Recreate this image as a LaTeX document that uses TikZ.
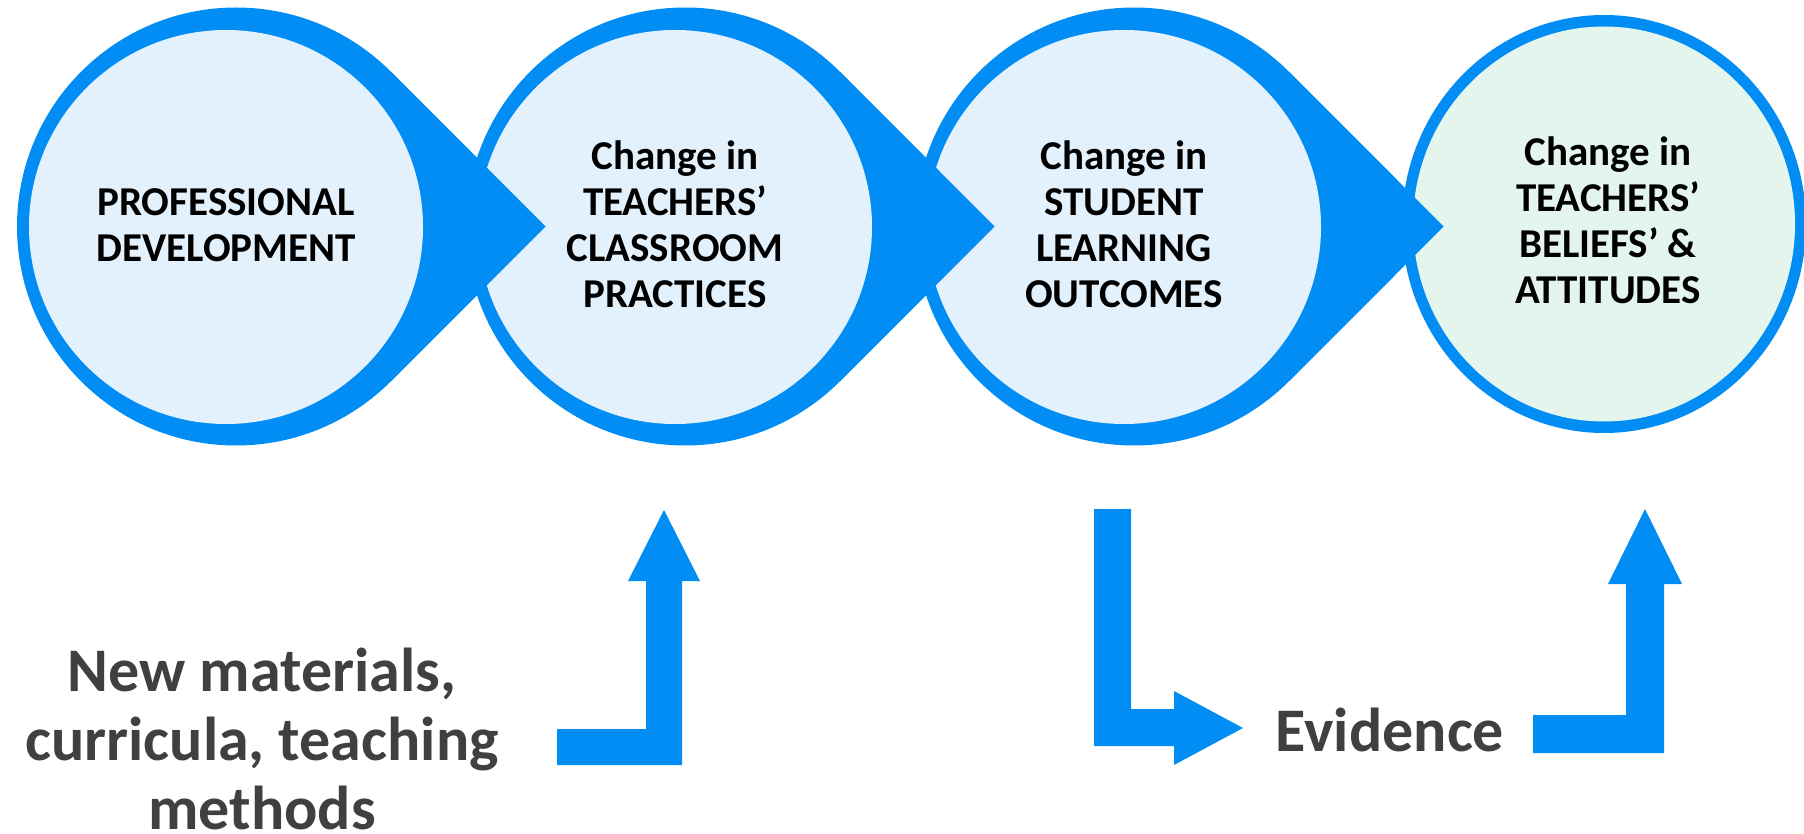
\documentclass[tikz,border=0pt]{standalone}
\usepackage{fontspec}
\setmainfont{Carlito}
\definecolor{cblue}{RGB}{2,141,245}
\definecolor{cfill}{RGB}{227,241,252}
\definecolor{gfill}{RGB}{227,245,236}
\definecolor{tgray}{RGB}{64,64,64}
\begin{document}
\begin{tikzpicture}[x=1pt,y=-1pt,
  ctext/.style={font=\fontsize{41}{46}\selectfont\bfseries, align=center, text=black, inner sep=0pt},
  btext/.style={font=\fontsize{62}{69}\selectfont\bfseries, align=center, text=tgray, inner sep=0pt},
  blockarrow/.style={fill=cblue}]
\clip (0,0) rectangle (1804,834);
% last circle
\fill[cblue] (1604,224) ellipse [x radius=202pt, y radius=209pt];
\fill[gfill] (1604,224) ellipse [x radius=191pt, y radius=197.5pt];
% tear-drop shapes, drawn right to left so each tip lies over the next circle
\foreach \i in {2,1,0} {
  \pgfmathsetmacro\cx{226+449*\i}
  \pgfmathsetmacro\ox{\cx+10}
  \fill[cblue] (\ox,226.5) circle [radius=219pt];
  \fill[cblue] (\ox+154.9,71.6) -- (\ox+309.7,226.5) -- (\ox+154.9,381.4) -- cycle;
  \fill[cfill] (\cx,227) circle [radius=197pt];
}
% texts in circles
\node[ctext] (pd)  at (226,225)  {PROFESSIONAL\\DEVELOPMENT};
\node[ctext] (tcp) at (675,224)  {Change in\\TEACHERS’\\CLASSROOM\\PRACTICES};
\node[ctext] (slo) at (1124,224) {Change in\\STUDENT\\LEARNING\\OUTCOMES};
\node[ctext] (tba) at (1608,220) {Change in\\TEACHERS’\\BELIEFS’ \&\\ATTITUDES};
% bottom texts
\node[btext] (nm) at (262,739) {New materials,\\curricula, teaching\\methods};
\node[btext, anchor=base] (ev) at (1390,751) {Evidence};
% block arrows
\fill[blockarrow] (557,729) -- (646,729) -- (646,581) -- (628,581) -- (664,510)
  -- (700,581) -- (682,581) -- (682,765) -- (557,765) -- cycle;
\fill[blockarrow] (1094,509) -- (1131,509) -- (1131,709) -- (1174,709) -- (1174,691)
  -- (1243,728) -- (1174,765) -- (1174,746) -- (1094,746) -- cycle;
\fill[blockarrow] (1533,715) -- (1626,715) -- (1626,584) -- (1608,584) -- (1645,509)
  -- (1682,584) -- (1664,584) -- (1664,753) -- (1533,753) -- cycle;
\end{tikzpicture}
\end{document}
